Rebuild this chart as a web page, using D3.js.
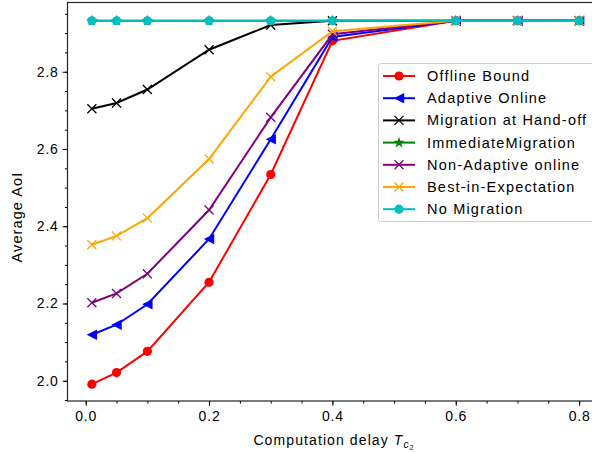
<!DOCTYPE html>
<html>
<head>
<meta charset="utf-8">
<script src="https://cdn.jsdelivr.net/npm/d3@7"></script>
<style>
  html, body { margin: 0; padding: 0; background: #fff; }
  svg { display: block; }
  text { font-family: "Liberation Sans", Arial, sans-serif; }
</style>
</head>
<body>
<svg id="chart" width="592" height="452"></svg>
<script>
// Computation delay values on the x axis
const delays = [0.01, 0.05, 0.1, 0.2, 0.3, 0.4, 0.6, 0.7, 0.8];

// Average AoI per strategy
const offlineBound      = [1.991, 2.021, 2.076, 2.255, 2.534, 2.880, 2.932, 2.932, 2.932];
const adaptiveOnline    = [2.119, 2.145, 2.198, 2.367, 2.625, 2.890, 2.932, 2.932, 2.932];
const migrationHandoff  = [2.704, 2.719, 2.754, 2.857, 2.921, 2.932, 2.932, 2.932, 2.932];
const immediateMigration= [2.932, 2.932, 2.932, 2.932, 2.932, 2.932, 2.932, 2.932, 2.932];
const nonAdaptiveOnline = [2.202, 2.226, 2.277, 2.442, 2.682, 2.897, 2.932, 2.932, 2.932];
const bestInExpectation = [2.352, 2.375, 2.421, 2.574, 2.787, 2.905, 2.932, 2.932, 2.932];
const noMigration       = [2.932, 2.932, 2.932, 2.932, 2.932, 2.932, 2.932, 2.932, 2.932];

const seriesNames = ["Offline Bound", "Adaptive Online", "Migration at Hand-off",
  "ImmediateMigration", "Non-Adaptive online", "Best-in-Expectation", "No Migration"];
const seriesValues = [offlineBound, adaptiveOnline, migrationHandoff,
  immediateMigration, nonAdaptiveOnline, bestInExpectation, noMigration];
const seriesColors = ["#ff0000", "#0000ff", "#000000", "#008000", "#800080", "#ffa500", "#00bfbf"];
const seriesMarkers = ["circle", "triangleLeft", "x", "star", "x", "x", "circle"];

const xTicks = [0.0, 0.2, 0.4, 0.6, 0.8];
const yTicks = [2.0, 2.2, 2.4, 2.6, 2.8];

const svg = d3.select("#chart");
const plotLeft = 67.5, plotTop = 2.5, plotBottom = 401, plotRight = 603.5;

const x = d3.scaleLinear().domain([-0.0295, 0.8395]).range([plotLeft, plotRight]);
const y = d3.scaleLinear().domain([1.9475, 2.9793]).range([plotBottom, plotTop]);

const font = "Liberation Sans, Arial, sans-serif";

// Axes with major and minor ticks
const xAxis = svg.append("g").attr("transform", `translate(0,${plotBottom})`);
xAxis.call(d3.axisBottom(x).tickValues(d3.range(0, 0.8001, 0.05)).tickSize(2.6).tickFormat(""));
xAxis.call(g => g.append("g").call(d3.axisBottom(x).tickValues(xTicks).tickSize(4.8).tickPadding(5)
  .tickFormat(d3.format(".1f"))));
const yAxis = svg.append("g").attr("transform", `translate(${plotLeft},0)`);
yAxis.call(d3.axisLeft(y).tickValues(d3.range(1.95, 2.9501, 0.05)).tickSize(2.6).tickFormat(""));
yAxis.call(g => g.append("g").call(d3.axisLeft(y).tickValues(yTicks).tickSize(4.8).tickPadding(4)
  .tickFormat(d3.format(".1f"))));

svg.selectAll(".domain").remove();
svg.selectAll(".tick line").attr("stroke", "#000").attr("stroke-width", 1);
svg.selectAll(".tick text").attr("fill", "#000").attr("font-size", 14)
  .attr("font-family", font).attr("letter-spacing", 0.8);

// Frame (right side extends past the canvas)
svg.append("rect").attr("x", plotLeft).attr("y", plotTop).attr("width", plotRight - plotLeft)
  .attr("height", plotBottom - plotTop).attr("fill", "none").attr("stroke", "#222").attr("stroke-width", 1.2);

// Axis titles
svg.append("text").attr("transform", "translate(22,217) rotate(-90)")
  .attr("text-anchor", "middle").attr("font-size", 14.5).attr("letter-spacing", 1.1)
  .attr("font-family", font).text("Average AoI");

const xl = svg.append("text").attr("x", 334).attr("y", 445)
  .attr("text-anchor", "middle").attr("font-size", 14).attr("letter-spacing", 1.1)
  .attr("font-family", font);
xl.append("tspan").text("Computation delay ");
xl.append("tspan").attr("font-style", "italic").text("T");
xl.append("tspan").attr("font-style", "italic").attr("font-size", 10).attr("dy", 3).text("c");
xl.append("tspan").attr("font-size", 7).attr("dy", 2).text("2");

// Marker shapes
function drawMarker(g, type, color, cx, cy) {
  if (type === "circle") {
    g.append("circle").attr("cx", cx).attr("cy", cy).attr("r", 4.6).attr("fill", color);
  } else if (type === "triangleLeft") {
    const s = 5.2;
    g.append("path").attr("d", `M${cx - s},${cy} L${cx + s},${cy - s} L${cx + s},${cy + s} Z`).attr("fill", color);
  } else if (type === "x") {
    const s = 4.5;
    g.append("path").attr("d", `M${cx - s},${cy - s} L${cx + s},${cy + s} M${cx - s},${cy + s} L${cx + s},${cy - s}`)
      .attr("stroke", color).attr("stroke-width", 1.3).attr("fill", "none");
  } else if (type === "star") {
    const star = d3.symbol().type(d3.symbolStar).size(40);
    g.append("path").attr("transform", `translate(${cx},${cy})`).attr("d", star()).attr("fill", color);
  }
}

const line = d3.line().x((d, i) => x(delays[i])).y(d => y(d));
seriesValues.forEach((vals, k) => {
  const g = svg.append("g");
  g.append("path").datum(vals).attr("d", line).attr("fill", "none")
    .attr("stroke", seriesColors[k]).attr("stroke-width", 2);
  vals.forEach((v, i) => drawMarker(g, seriesMarkers[k], seriesColors[k], x(delays[i]), y(v)));
});

// Legend
const lg = svg.append("g");
lg.append("rect").attr("x", 378.5).attr("y", 63.5).attr("width", 222).attr("height", 158)
  .attr("rx", 3).attr("fill", "#fff").attr("fill-opacity", 0.85).attr("stroke", "#ccc").attr("stroke-width", 1);
seriesNames.forEach((name, k) => {
  const cy = 76 + k * 22.2;
  lg.append("line").attr("x1", 383).attr("x2", 415).attr("y1", cy).attr("y2", cy)
    .attr("stroke", seriesColors[k]).attr("stroke-width", 2);
  drawMarker(lg, seriesMarkers[k], seriesColors[k], 399, cy);
  lg.append("text").attr("x", 427).attr("y", cy + 5).attr("font-size", 14.5)
    .attr("letter-spacing", 1.2).attr("font-family", font).text(name);
});
</script>
</body>
</html>
